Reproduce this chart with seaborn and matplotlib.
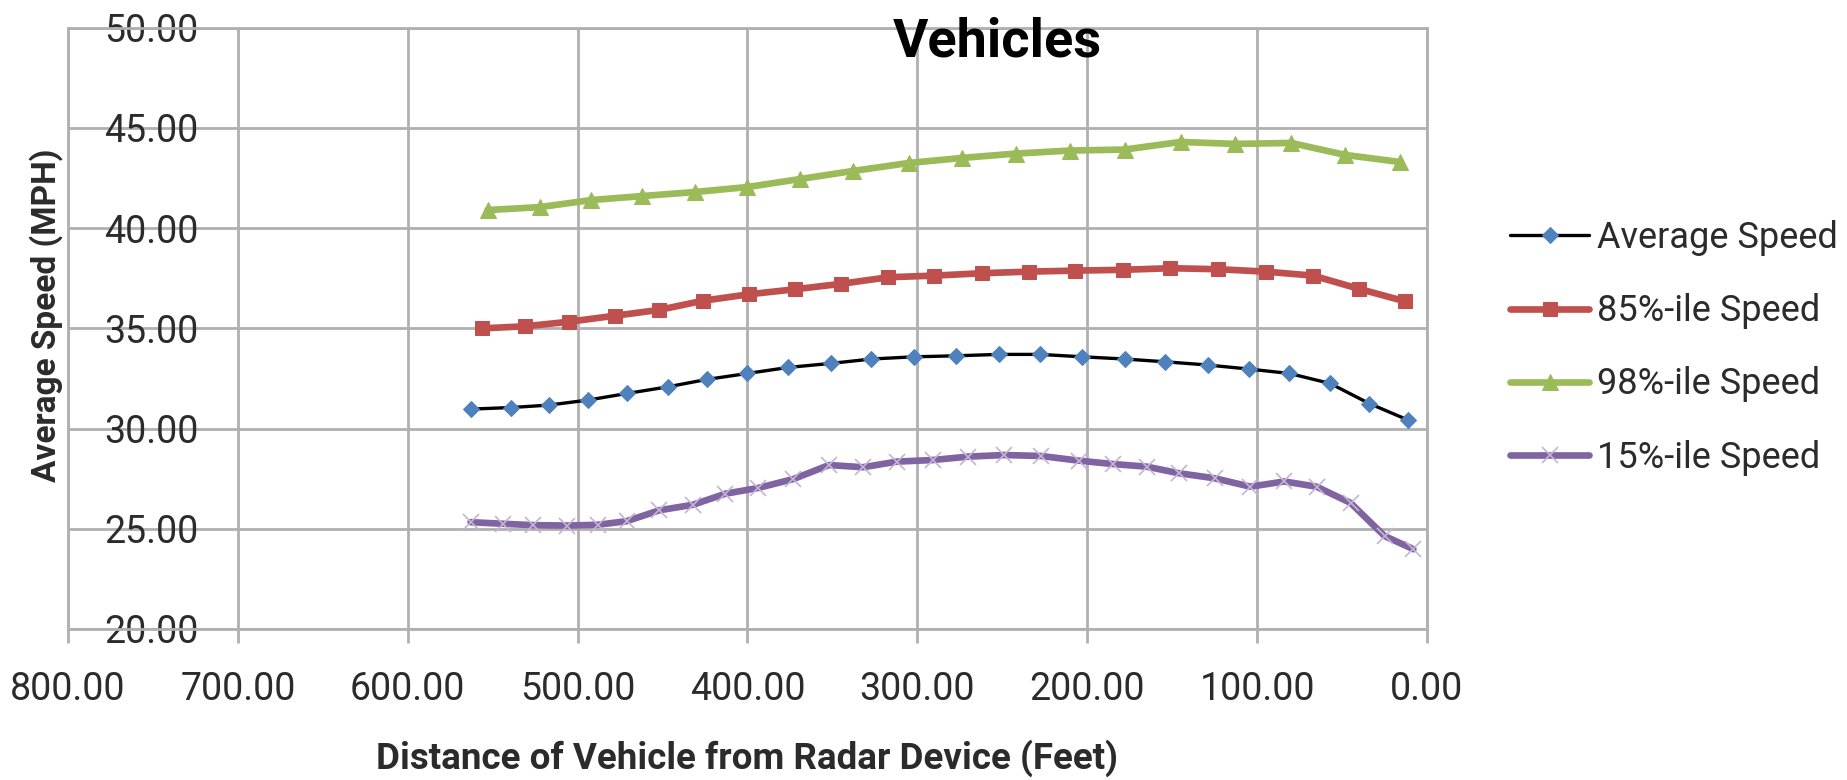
import matplotlib
matplotlib.use("Agg")
import matplotlib.pyplot as plt
import seaborn as sns
from matplotlib.ticker import MultipleLocator, FormatStrFormatter

# data (distance in feet, speed in mph)
dist_avg = [563, 539, 517, 494, 471, 447, 424, 400, 376, 351, 327, 302, 277, 252,
            228, 203, 178, 154, 129, 105, 81, 57, 34, 11]
avg_speed = [30.97, 31.05, 31.17, 31.42, 31.75, 32.08, 32.45, 32.75, 33.05, 33.25,
             33.47, 33.58, 33.63, 33.70, 33.70, 33.58, 33.47, 33.33, 33.17, 32.97,
             32.75, 32.25, 31.25, 30.42]

dist_85 = [556, 531, 505, 478, 452, 426, 399, 372, 345, 317, 290, 262, 234, 207,
           179, 151, 123, 95, 67, 40, 13]
speed_85 = [35.00, 35.10, 35.33, 35.63, 35.92, 36.38, 36.70, 36.95, 37.22, 37.55,
            37.63, 37.75, 37.83, 37.88, 37.92, 38.00, 37.95, 37.83, 37.63, 36.97, 36.35]

dist_98 = [553, 522, 492, 462, 431, 400, 369, 338, 305, 274, 242, 210, 178, 145,
           113, 80, 48, 16]
speed_98 = [40.90, 41.05, 41.40, 41.60, 41.80, 42.05, 42.45, 42.85, 43.25, 43.50,
            43.72, 43.87, 43.92, 44.30, 44.20, 44.25, 43.65, 43.30]

dist_15 = [563, 544, 526, 506, 488, 471, 452, 432, 413, 394, 373, 352, 332, 312,
           291, 270, 249, 227, 205, 185, 165, 146, 125, 104, 84, 65, 45, 25, 8]
speed_15 = [25.33, 25.25, 25.18, 25.16, 25.20, 25.38, 25.92, 26.20, 26.75, 27.03,
            27.48, 28.18, 28.07, 28.35, 28.43, 28.60, 28.68, 28.63, 28.40, 28.23,
            28.10, 27.77, 27.52, 27.10, 27.36, 27.10, 26.29, 24.64, 23.98]

sns.set_style("white")
plt.rcParams["font.family"] = ["Roboto", "DejaVu Sans"]

fig = plt.figure(figsize=(18.47, 7.8), dpi=100)
ax = fig.add_axes([0.0368, 0.1936, 0.7358, 0.7709])

grid_col = "#b0b0b0"
txt_col = "#2b2b2b"

sns.lineplot(x=dist_avg, y=avg_speed, ax=ax, color="black", lw=2.4,
             marker="D", markersize=8, markerfacecolor="#4F81BD",
             markeredgecolor="#4F81BD", label="Average Speed", zorder=3)
sns.lineplot(x=dist_85, y=speed_85, ax=ax, color="#C0504D", lw=4.8,
             marker="s", markersize=9.5, markeredgecolor="#C0504D",
             label="85%-ile Speed", zorder=3)
sns.lineplot(x=dist_98, y=speed_98, ax=ax, color="#9BBB59", lw=4.8,
             marker="^", markersize=11, markeredgecolor="#9BBB59",
             label="98%-ile Speed", zorder=3)
sns.lineplot(x=dist_15, y=speed_15, ax=ax, color="#8064A2", lw=4.8,
             marker="x", markersize=11, markeredgewidth=1.2,
             markeredgecolor="#C4B5D6", label="15%-ile Speed", zorder=3)

ax.set_xlim(800, 0)
ax.set_ylim(20, 50)
ax.xaxis.set_major_locator(MultipleLocator(100))
ax.yaxis.set_major_locator(MultipleLocator(5))
ax.xaxis.set_major_formatter(FormatStrFormatter("%.2f"))
ax.yaxis.set_major_formatter(FormatStrFormatter("%.2f"))
ax.grid(True, color=grid_col, lw=2)
ax.set_axisbelow(True)
for s in ax.spines.values():
    s.set_color(grid_col)
    s.set_linewidth(2)

# x ticks hang below the axis, y labels sit inside the plot area
ax.tick_params(axis="x", length=10, width=2, color=grid_col, pad=20,
               labelsize=27, labelcolor=txt_col, direction="out", bottom=True)
ax.tick_params(axis="y", length=0, pad=-26, labelsize=27, labelcolor=txt_col)
for lbl in ax.get_yticklabels():
    lbl.set_horizontalalignment("left")

ax.set_xlabel("Distance of Vehicle from Radar Device (Feet)", fontsize=26.5,
              fontweight="bold", color=txt_col)
ax.xaxis.set_label_coords(0.5, -0.183)
ax.set_ylabel("Average Speed (MPH)", fontsize=24, fontweight="bold", color=txt_col)
ax.yaxis.set_label_coords(-0.004, 0.522)

fig.text(0.540, 0.946, "Vehicles", ha="center", va="center", fontsize=39,
         fontweight="bold", color="black")

ax.legend(loc="upper left", bbox_to_anchor=(0.8175, 0.718),
          bbox_transform=fig.transFigure, frameon=False, fontsize=26,
          handlelength=2.2, handletextpad=0.2, labelspacing=1.03,
          borderpad=0, borderaxespad=0, labelcolor=txt_col)

fig.savefig("out.png", dpi=100)
